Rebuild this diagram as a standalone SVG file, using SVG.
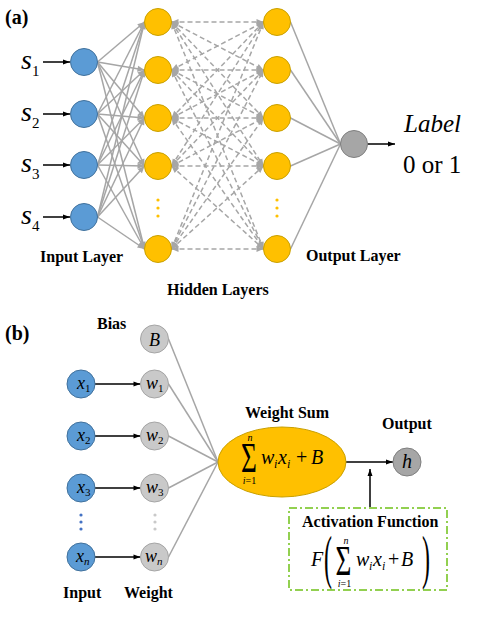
<svg xmlns="http://www.w3.org/2000/svg" width="483" height="617" viewBox="0 0 483 617">
<style>
.t{font-family:"Liberation Serif","Times New Roman",serif;fill:#000}
.b{font-weight:bold;font-size:16px}
.i{font-style:italic}
.ln{stroke:#A6A6A6;stroke-width:1.5;fill:none}
.dl{stroke:#A6A6A6;stroke-width:1.5;fill:none;stroke-dasharray:5,3}
.ar{stroke:#000;stroke-width:1.5;fill:none}
.blue{fill:#5B9BD5;stroke:#41719C;stroke-width:1}
.org{fill:#FFC000;stroke:#C9A000;stroke-width:1}
.gry{fill:#A6A6A6;stroke:#7F7F7F;stroke-width:1}
.lg{fill:#C9C9C9;stroke:#A5A5A5;stroke-width:1}
</style>
<defs>
<marker id="ga" markerUnits="userSpaceOnUse" markerWidth="8" markerHeight="6" refX="7" refY="3" orient="auto-start-reverse" overflow="visible"><path d="M0,0 L7,3 L0,6 z" fill="#A6A6A6"/></marker>
<marker id="ba" markerUnits="userSpaceOnUse" markerWidth="8" markerHeight="6" refX="7" refY="3" orient="auto" overflow="visible"><path d="M0,0.5 L7,3 L0,5.5 z" fill="#000"/></marker>
</defs>

<text class="t" x="5" y="24" font-size="20" font-weight="bold">(a)</text>
<text class="t" x="5" y="340" font-size="20" font-weight="bold">(b)</text>

<g id="connectors">
<line class="ar" x1="43" y1="62" x2="70" y2="62" marker-end="url(#ba)"/>
<line class="ar" x1="43" y1="114" x2="70" y2="114" marker-end="url(#ba)"/>
<line class="ar" x1="43" y1="165" x2="70" y2="165" marker-end="url(#ba)"/>
<line class="ar" x1="43" y1="217" x2="70" y2="217" marker-end="url(#ba)"/>
<g class="ln" marker-end="url(#ga)">
<line x1="97.5" y1="62" x2="144.5" y2="22"/><line x1="97.5" y1="62" x2="144.5" y2="70"/><line x1="97.5" y1="62" x2="144.5" y2="118"/><line x1="97.5" y1="62" x2="144.5" y2="166"/><line x1="97.5" y1="62" x2="144.5" y2="249"/>
<line x1="97.5" y1="114" x2="144.5" y2="22"/><line x1="97.5" y1="114" x2="144.5" y2="70"/><line x1="97.5" y1="114" x2="144.5" y2="118"/><line x1="97.5" y1="114" x2="144.5" y2="166"/><line x1="97.5" y1="114" x2="144.5" y2="249"/>
<line x1="97.5" y1="165" x2="144.5" y2="22"/><line x1="97.5" y1="165" x2="144.5" y2="70"/><line x1="97.5" y1="165" x2="144.5" y2="118"/><line x1="97.5" y1="165" x2="144.5" y2="166"/><line x1="97.5" y1="165" x2="144.5" y2="249"/>
<line x1="97.5" y1="217" x2="144.5" y2="22"/><line x1="97.5" y1="217" x2="144.5" y2="70"/><line x1="97.5" y1="217" x2="144.5" y2="118"/><line x1="97.5" y1="217" x2="144.5" y2="166"/><line x1="97.5" y1="217" x2="144.5" y2="249"/>
</g>
<g class="dl" marker-start="url(#ga)" marker-end="url(#ga)">
<line x1="171.5" y1="22" x2="263.5" y2="22"/><line x1="171.5" y1="22" x2="263.5" y2="70"/><line x1="171.5" y1="22" x2="263.5" y2="118"/><line x1="171.5" y1="22" x2="263.5" y2="166"/><line x1="171.5" y1="22" x2="263.5" y2="249"/>
<line x1="171.5" y1="70" x2="263.5" y2="22"/><line x1="171.5" y1="70" x2="263.5" y2="70"/><line x1="171.5" y1="70" x2="263.5" y2="118"/><line x1="171.5" y1="70" x2="263.5" y2="166"/><line x1="171.5" y1="70" x2="263.5" y2="249"/>
<line x1="171.5" y1="118" x2="263.5" y2="22"/><line x1="171.5" y1="118" x2="263.5" y2="70"/><line x1="171.5" y1="118" x2="263.5" y2="118"/><line x1="171.5" y1="118" x2="263.5" y2="166"/><line x1="171.5" y1="118" x2="263.5" y2="249"/>
<line x1="171.5" y1="166" x2="263.5" y2="22"/><line x1="171.5" y1="166" x2="263.5" y2="70"/><line x1="171.5" y1="166" x2="263.5" y2="118"/><line x1="171.5" y1="166" x2="263.5" y2="166"/><line x1="171.5" y1="166" x2="263.5" y2="249"/>
<line x1="171.5" y1="249" x2="263.5" y2="22"/><line x1="171.5" y1="249" x2="263.5" y2="70"/><line x1="171.5" y1="249" x2="263.5" y2="118"/><line x1="171.5" y1="249" x2="263.5" y2="166"/><line x1="171.5" y1="249" x2="263.5" y2="249"/>
</g>
<g class="ln">
<line x1="290.5" y1="22" x2="340.5" y2="144"/><line x1="290.5" y1="70" x2="340.5" y2="144"/><line x1="290.5" y1="118" x2="340.5" y2="144"/><line x1="290.5" y1="166" x2="340.5" y2="144"/><line x1="290.5" y1="249" x2="340.5" y2="144"/>
</g>
<line class="ar" x1="367.5" y1="144" x2="395" y2="144" marker-end="url(#ba)"/>

<line class="ar" x1="95" y1="384" x2="140.5" y2="384" marker-end="url(#ba)"/>
<line class="ar" x1="95" y1="436" x2="140.5" y2="436" marker-end="url(#ba)"/>
<line class="ar" x1="95" y1="488" x2="140.5" y2="488" marker-end="url(#ba)"/>
<line class="ar" x1="95" y1="557" x2="140.5" y2="557" marker-end="url(#ba)"/>
<g class="ln">
<line x1="168.5" y1="339" x2="218" y2="462"/><line x1="168.5" y1="384" x2="218" y2="462"/><line x1="168.5" y1="436" x2="218" y2="462"/><line x1="168.5" y1="488" x2="218" y2="462"/><line x1="168.5" y1="557" x2="218" y2="462"/>
</g>
<line class="ar" x1="346" y1="462" x2="393" y2="462" marker-end="url(#ba)"/>
<line class="ar" x1="370" y1="508" x2="370" y2="469" marker-end="url(#ba)"/>
</g>

<g id="in1"><circle class="blue" cx="84" cy="62" r="13.5"/><text class="t i" x="21" y="69" font-size="28">s</text><text class="t" x="32" y="76" font-size="15">1</text></g>
<g id="in2"><circle class="blue" cx="84" cy="114" r="13.5"/><text class="t i" x="21" y="121" font-size="28">s</text><text class="t" x="32" y="128" font-size="15">2</text></g>
<g id="in3"><circle class="blue" cx="84" cy="165" r="13.5"/><text class="t i" x="21" y="172" font-size="28">s</text><text class="t" x="32" y="179" font-size="15">3</text></g>
<g id="in4"><circle class="blue" cx="84" cy="217" r="13.5"/><text class="t i" x="21" y="224" font-size="28">s</text><text class="t" x="32" y="231" font-size="15">4</text></g>

<g id="h1a"><circle class="org" cx="158" cy="22" r="13.5"/></g>
<g id="h1b"><circle class="org" cx="158" cy="70" r="13.5"/></g>
<g id="h1c"><circle class="org" cx="158" cy="118" r="13.5"/></g>
<g id="h1d"><circle class="org" cx="158" cy="166" r="13.5"/></g>
<g id="h1dots" fill="#FFC000"><circle cx="158" cy="200" r="1.6"/><circle cx="158" cy="208" r="1.6"/><circle cx="158" cy="216" r="1.6"/></g>
<g id="h1e"><circle class="org" cx="158" cy="249" r="13.5"/></g>
<g id="h2a"><circle class="org" cx="277" cy="22" r="13.5"/></g>
<g id="h2b"><circle class="org" cx="277" cy="70" r="13.5"/></g>
<g id="h2c"><circle class="org" cx="277" cy="118" r="13.5"/></g>
<g id="h2d"><circle class="org" cx="277" cy="166" r="13.5"/></g>
<g id="h2dots" fill="#FFC000"><circle cx="277" cy="200" r="1.6"/><circle cx="277" cy="208" r="1.6"/><circle cx="277" cy="216" r="1.6"/></g>
<g id="h2e"><circle class="org" cx="277" cy="249" r="13.5"/></g>
<g id="out"><circle class="gry" cx="354" cy="144" r="13.5"/></g>
<g id="labelout"><text class="t i" x="404" y="132" font-size="25">Label</text><text class="t" x="403" y="173" font-size="25">0 or 1</text></g>

<text class="t b" x="40" y="262">Input Layer</text>
<text class="t b" x="306" y="261">Output Layer</text>
<text class="t b" x="167" y="295">Hidden Layers</text>

<text class="t b" x="97" y="329">Bias</text>
<g id="bias"><circle class="lg" cx="154.5" cy="339" r="14"/><text class="t i" x="154.5" y="345.5" font-size="18" text-anchor="middle">B</text></g>
<g id="x1"><circle class="blue" cx="81" cy="384" r="14"/><text class="t i" x="77" y="389" font-size="18">x</text><text class="t" x="85" y="392" font-size="11">1</text></g>
<g id="x2"><circle class="blue" cx="81" cy="436" r="14"/><text class="t i" x="77" y="441" font-size="18">x</text><text class="t" x="85" y="444" font-size="11">2</text></g>
<g id="x3"><circle class="blue" cx="81" cy="488" r="14"/><text class="t i" x="77" y="493" font-size="18">x</text><text class="t" x="85" y="496" font-size="11">3</text></g>
<g id="xdots" fill="#4472C4"><circle cx="81" cy="515" r="1.6"/><circle cx="81" cy="522" r="1.6"/><circle cx="81" cy="529" r="1.6"/></g>
<g id="xn"><circle class="blue" cx="81" cy="557" r="14"/><text class="t i" x="76" y="562" font-size="18">x</text><text class="t i" x="84" y="565" font-size="11">n</text></g>

<g id="w1"><circle class="lg" cx="154.5" cy="384" r="14"/><text class="t i" x="146" y="389" font-size="18">w</text><text class="t" x="158" y="392" font-size="11">1</text></g>
<g id="w2"><circle class="lg" cx="154.5" cy="436" r="14"/><text class="t i" x="146" y="441" font-size="18">w</text><text class="t" x="158" y="444" font-size="11">2</text></g>
<g id="w3"><circle class="lg" cx="154.5" cy="488" r="14"/><text class="t i" x="146" y="493" font-size="18">w</text><text class="t" x="158" y="496" font-size="11">3</text></g>
<g id="wdots" fill="#C9C9C9"><circle cx="155" cy="515" r="1.6"/><circle cx="155" cy="522" r="1.6"/><circle cx="155" cy="529" r="1.6"/></g>
<g id="wn"><circle class="lg" cx="154.5" cy="557" r="14"/><text class="t i" x="145" y="562" font-size="18">w</text><text class="t i" x="157" y="565" font-size="11">n</text></g>

<text class="t b" x="63" y="598">Input</text>
<text class="t b" x="124" y="598">Weight</text>

<g id="sum">
<ellipse class="org" cx="282" cy="462" rx="64" ry="35"/>
<text class="t b" x="245" y="418">Weight Sum</text>
<text class="t" x="249" y="472" font-size="32" text-anchor="middle" transform="translate(249,472) scale(0.85,1.35) translate(-249,-472)">Σ</text>
<text class="t i" x="250" y="441" font-size="10" text-anchor="middle">n</text>
<text class="t" x="249.5" y="484" font-size="10" text-anchor="middle"><tspan font-style="italic">i</tspan>=1</text>
<text class="t i" x="261" y="464" font-size="20">w</text><text class="t i" x="274" y="468" font-size="12">i</text>
<text class="t i" x="278" y="464" font-size="20">x</text><text class="t i" x="287" y="468" font-size="12">i</text>
<text class="t" x="296" y="464" font-size="20">+</text>
<text class="t i" x="311" y="464" font-size="20">B</text>
</g>

<text class="t b" x="382" y="429">Output</text>
<g id="outh"><circle class="gry" cx="407" cy="462" r="14"/><text class="t i" x="407" y="468" font-size="20" text-anchor="middle">h</text></g>

<g id="activation">
<rect x="289" y="508" width="158" height="82" fill="none" stroke="#92D050" stroke-width="2" stroke-dasharray="8,3,2,3"/>
<text class="t b" x="302" y="527">Activation Function</text>
<text class="t i" x="311" y="566" font-size="20">F</text>
<text class="t" x="328" y="577" font-size="60" text-anchor="middle" transform="translate(328,577) scale(0.4,1) translate(-328,-577)">(</text>
<text class="t" x="343.5" y="575" font-size="32" text-anchor="middle" transform="translate(343.5,575) scale(0.85,1.35) translate(-343.5,-575)">Σ</text>
<text class="t i" x="346" y="544" font-size="10" text-anchor="middle">n</text>
<text class="t" x="344.5" y="587" font-size="10" text-anchor="middle"><tspan font-style="italic">i</tspan>=1</text>
<text class="t i" x="356" y="566" font-size="20">w</text><text class="t i" x="369" y="570" font-size="12">i</text>
<text class="t i" x="373" y="566" font-size="20">x</text><text class="t i" x="382" y="570" font-size="12">i</text>
<text class="t" x="388" y="566" font-size="20">+</text>
<text class="t i" x="401" y="566" font-size="20">B</text>
<text class="t" x="426" y="577" font-size="60" text-anchor="middle" transform="translate(426,577) scale(0.4,1) translate(-426,-577)">)</text>
</g>
</svg>
